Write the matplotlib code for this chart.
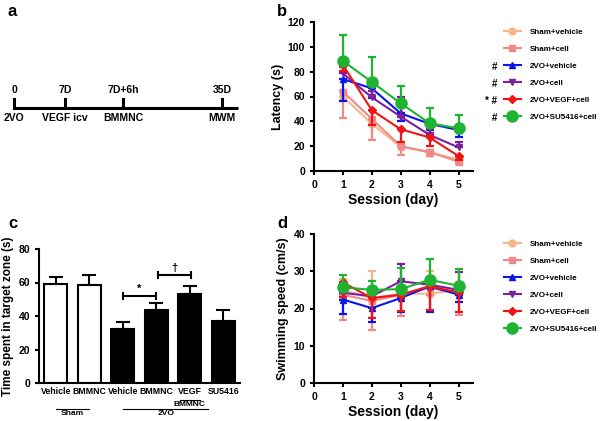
import matplotlib
matplotlib.use("Agg")
import matplotlib.pyplot as plt
import numpy as np

plt.rcParams['font.family'] = ['Liberation Sans', 'DejaVu Sans']
plt.rcParams['font.weight'] = 'bold'
plt.rcParams['axes.labelweight'] = 'bold'

# ---------------- data ----------------
timeline_pos = [14, 65, 123, 222]          # diagram positions (not to scale)
timeline_end = 238
timeline_top = ["0", "7D", "7D+6h", "35D"]
timeline_bottom = ["2VO", "VEGF icv", "BMMNC", "MWM"]

sessions = [1, 2, 3, 4, 5]
groups = ["Sham+vehicle", "Sham+cell", "2VO+vehicle", "2VO+cell",
          "2VO+VEGF+cell", "2VO+SU5416+cell"]
colors = ["#F5B78A", "#F08A8A", "#0A14F0", "#7A1FA0", "#F01414", "#1EB432"]
markers = ["o", "s", "^", "v", "D", "o"]
msizes = [5, 5, 5, 5, 4, 8]
err_dir = ["up", "down", "down", "up", "down", "up"]

latency_mean = [
    [60, 38, 19.6, 14.8, 9.4],
    [64, 42, 20, 15.3, 7.5],
    [74, 66.6, 46.4, 38, 33],
    [78.6, 59.3, 43.8, 29, 19],
    [85.4, 49, 33.6, 27, 12],
    [88.6, 71.7, 54.5, 38.4, 34.4],
]
latency_err = [
    [5, 5, 3, 2, 2],
    [21, 17, 7, 3, 2],
    [18, 8, 6, 5, 6],
    [5, 5, 16, 5, 4],
    [5, 12, 10, 7, 3],
    [21, 20, 14, 12, 11],
]
speed_mean = [
    [25, 22.8, 24, 24, 25],
    [23.7, 22, 23.7, 25.5, 24.2],
    [22.4, 20.1, 22.8, 26, 23.7],
    [24.2, 23.3, 27.3, 26.4, 25],
    [27, 22.8, 23.7, 26, 24.3],
    [25.7, 25, 25.2, 27.7, 26.1],
]
speed_err = [
    [3, 7.4, 2, 6, 2],
    [6.7, 7.9, 5.7, 2, 5.9],
    [3.8, 3.8, 3.8, 7, 2],
    [2, 2, 4.7, 2, 4.7],
    [4, 5.4, 4.5, 6.3, 5.3],
    [3.3, 2.5, 5.7, 5.7, 4.5],
]
legend_marks = ["", "", "#", "#", "* #", "#"]

bar_labels = ["Vehicle", "BMMNC", "Vehicle", "BMMNC", "VEGF", "SU5416"]
bar_values = [59, 58.8, 32.4, 43.7, 53, 37.3]
bar_errors = [4.5, 5.5, 4.1, 3.9, 5, 6.2]
bar_fill = ["white", "white", "black", "black", "black", "black"]

W, H = 600, 421
fig = plt.figure(figsize=(6.0, 4.21), dpi=100)

def fx(px):
    return px / W

def fy(py):
    return 1 - py / H

def axes_px(l, t, r, b):
    return fig.add_axes([fx(l), fy(b), fx(r) - fx(l), fy(t) - fy(b)])

# panel letters
for letter, (px, py) in zip("abcd", [(8, 12), (277, 12), (8, 224), (277, 224)]):
    fig.text(fx(px), fy(py), letter, fontsize=12, fontweight='bold', va='center', ha='left')

# ---------------- panel a ----------------
ax_a = axes_px(0, 60, 270, 150)
ax_a.set_xlim(0, 270)
ax_a.set_ylim(150, 60)
ax_a.axis('off')
ax_a.plot([timeline_pos[0] - 1, timeline_end], [108, 108], color='black', lw=2.2,
          solid_capstyle='butt')
for p, t, b in zip(timeline_pos, timeline_top, timeline_bottom):
    ax_a.plot([p, p], [108, 99], color='black', lw=2.2)
    ax_a.text(p, 95, t, ha='center', va='bottom', fontsize=7.5, fontweight='bold')
    ax_a.text(p, 113, b, ha='center', va='top', fontsize=7.5, fontweight='bold')

def style_axes(ax):
    for s in ['top', 'right']:
        ax.spines[s].set_visible(False)
    for s in ['left', 'bottom']:
        ax.spines[s].set_linewidth(1.5)
    ax.tick_params(width=1.5, length=3, labelsize=7.5)
    for lab in ax.get_xticklabels() + ax.get_yticklabels():
        lab.set_fontweight('bold')

def line_panel(ax, means, errs, ylim, yticks, ylabel):
    handles = []
    for i in range(len(groups)):
        m = np.array(means[i])
        e = np.array(errs[i])
        if err_dir[i] == "up":
            yerr = [np.zeros_like(e), e]
        else:
            yerr = [e, np.zeros_like(e)]
        ax.errorbar(sessions, m, yerr=yerr, color=colors[i], lw=1.6,
                    capsize=3, capthick=1.6, elinewidth=1.6, fmt='none', zorder=2 + i)
        h, = ax.plot(sessions, m, color=colors[i], lw=1.5, marker=markers[i],
                     markersize=msizes[i], markeredgecolor=colors[i], zorder=3 + i,
                     label=groups[i])
        handles.append(h)
    ax.set_xlim(0, 5.5)
    ax.set_xticks([0, 1, 2, 3, 4, 5])
    ax.set_ylim(*ylim)
    ax.set_yticks(yticks)
    ax.set_xlabel("Session (day)", fontsize=10, fontweight='bold', labelpad=2)
    ax.set_ylabel(ylabel, fontsize=9, fontweight='bold', labelpad=3)
    style_axes(ax)
    return handles

leg_kw = dict(loc='upper left', frameon=False, prop={'size': 5.8, 'weight': 'bold'},
              handlelength=2.1, labelspacing=1.16, handletextpad=1.1, borderpad=0)

# ---------------- panel b ----------------
ax_b = axes_px(314, 22, 473, 171)
hb = line_panel(ax_b, latency_mean, latency_err, (0, 120), range(0, 121, 20), "Latency (s)")
leg_b = fig.legend(handles=hb, bbox_to_anchor=(fx(500), fy(24.5)), **leg_kw)

# ---------------- panel d ----------------
ax_d = axes_px(314, 234, 473, 383)
hd = line_panel(ax_d, speed_mean, speed_err, (0, 40), range(0, 41, 10), "Swimming speed (cm/s)")
fig.legend(handles=hd, bbox_to_anchor=(fx(500), fy(236.5)), **leg_kw)

# significance marks next to legend b rows
fig.canvas.draw()
inv = fig.transFigure.inverted()
for mk, txt in zip(legend_marks, leg_b.get_texts()):
    if mk:
        bb = txt.get_window_extent()
        yc = (bb.y0 + bb.y1) / 2
        _, yfig = inv.transform((0, yc))
        fig.text(fx(497), yfig, mk, ha='right', va='center', fontsize=7, fontweight='bold')

# ---------------- panel c ----------------
ax_c = axes_px(39, 249, 240, 383)
x = np.arange(len(bar_values))
ax_c.bar(x, bar_values, width=0.7, color=bar_fill, edgecolor='black', linewidth=1.5, zorder=2)
ax_c.errorbar(x, bar_values, yerr=[np.zeros(len(bar_errors)), bar_errors], fmt='none',
              ecolor='black', elinewidth=1.5, capsize=5, capthick=1.5, zorder=1)
ax_c.set_xlim(-0.5, 5.5)
ax_c.set_ylim(0, 80)
ax_c.set_yticks(range(0, 81, 20))
ax_c.set_xticks(x)
ax_c.set_xticklabels(bar_labels)
ax_c.set_ylabel("Time spent in target zone (s)", fontsize=8.5, fontweight='bold', labelpad=3)
style_axes(ax_c)
ax_c.tick_params(axis='x', length=0, pad=3, labelsize=6.3)

# significance brackets
def bracket(ax, x0, x1, y, sym, dy):
    ax.plot([x0, x1], [y, y], color='black', lw=1.5, clip_on=False)
    ax.plot([x0, x0], [y - 2, y + 2], color='black', lw=1.5, clip_on=False)
    ax.plot([x1, x1], [y - 2, y + 2], color='black', lw=1.5, clip_on=False)
    ax.text((x0 + x1) / 2, y + dy, sym, ha='center', va='bottom', fontsize=8, fontweight='bold')

bracket(ax_c, 2, 3, 52, "*", 1.0)
bracket(ax_c, 3.05, 4.05, 64.5, "\u2020", 1.0)

# group annotations below x axis
trans = ax_c.get_xaxis_transform()
ax_c.plot([3.7, 4.3], [-0.128, -0.128], transform=trans, color='black', lw=0.8, clip_on=False)
ax_c.text(4, -0.133, "BMMNC", transform=trans, ha='center', va='top', fontsize=6, fontweight='bold')
ax_c.plot([0.0, 1.0], [-0.195, -0.195], transform=trans, color='black', lw=0.8, clip_on=False)
ax_c.text(0.5, -0.205, "Sham", transform=trans, ha='center', va='top', fontsize=6, fontweight='bold')
ax_c.plot([2.0, 4.55], [-0.195, -0.195], transform=trans, color='black', lw=0.8, clip_on=False)
ax_c.text(3.3, -0.205, "2VO", transform=trans, ha='center', va='top', fontsize=6, fontweight='bold')

fig.savefig("out.png", dpi=100)
